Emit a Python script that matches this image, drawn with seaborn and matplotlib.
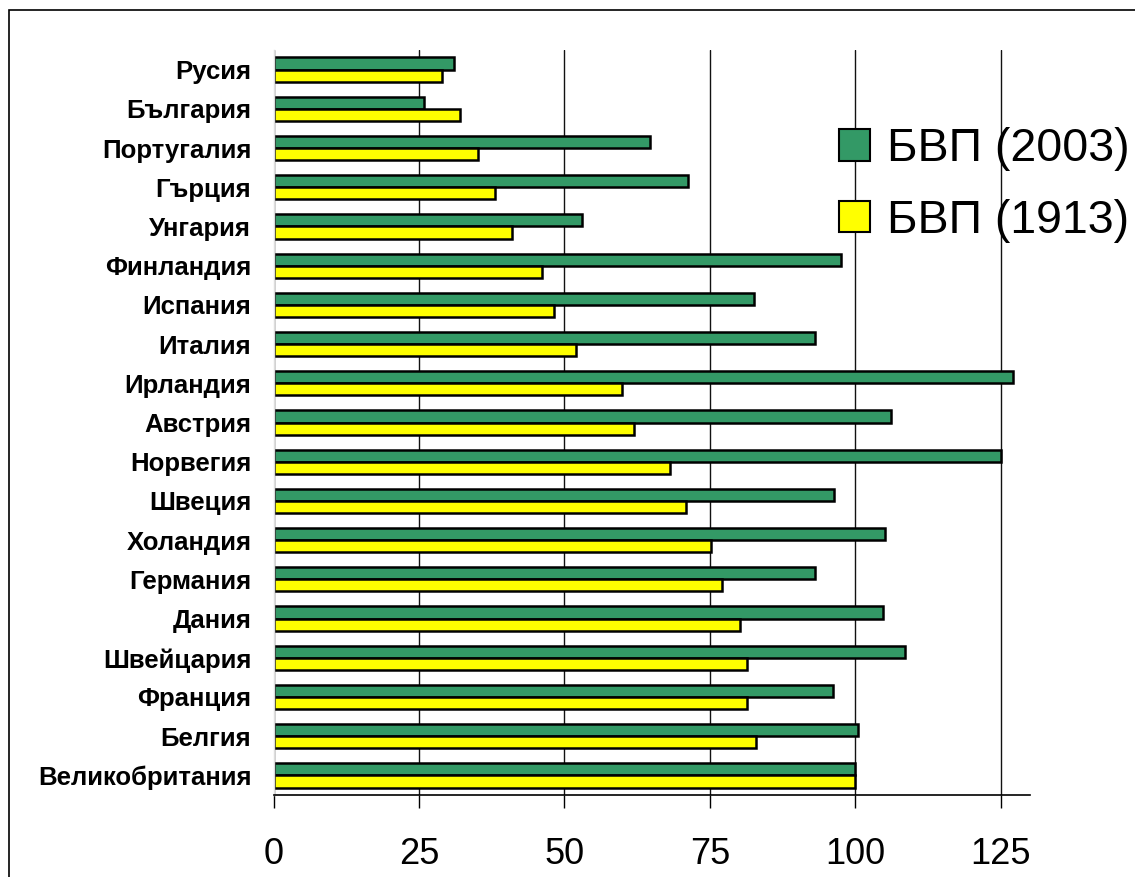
import matplotlib
matplotlib.use("Agg")
import matplotlib.pyplot as plt
import seaborn as sns
import pandas as pd
from matplotlib.patches import Rectangle, Patch

countries = ["Русия", "България", "Португалия", "Гърция", "Унгария", "Финландия",
             "Испания", "Италия", "Ирландия", "Австрия", "Норвегия", "Швеция",
             "Холандия", "Германия", "Дания", "Швейцария", "Франция", "Белгия",
             "Великобритания"]
gdp_2003 = [31.1, 25.8, 64.7, 71.3, 53.0, 97.5, 82.6, 93.0, 127.1, 106.1, 125.0, 96.4,
            105.0, 93.0, 104.7, 108.5, 96.1, 100.5, 100.0]
gdp_1913 = [28.9, 32.0, 35.1, 38.0, 41.0, 46.2, 48.2, 51.9, 59.9, 61.9, 68.1, 70.9,
            75.1, 77.1, 80.2, 81.3, 81.3, 83.0, 100.0]
series_names = ["БВП (2003)", "БВП (1913)"]
series_colors = ["#339966", "#FFFF00"]
x_ticks = [0, 25, 50, 75, 100, 125]

df = pd.DataFrame({
    "country": countries * 2,
    "value": gdp_2003 + gdp_1913,
    "series": [series_names[0]] * len(countries) + [series_names[1]] * len(countries),
})

sns.set_theme(style="white")
plt.rcParams["font.family"] = ["Liberation Sans", "DejaVu Sans"]
plt.rcParams["text.color"] = "black"
plt.rcParams["xtick.color"] = "black"
plt.rcParams["ytick.color"] = "black"
plt.rcParams["axes.labelcolor"] = "black"

fig = plt.figure(figsize=(11.35, 8.77), dpi=100)
ax = fig.add_axes([273.5 / 1135, 1 - 795 / 877, (1030 - 273.5) / 1135, (795 - 50) / 877])

sns.barplot(data=df, y="country", x="value", hue="series", order=countries,
            hue_order=series_names, palette=series_colors, orient="h",
            width=0.62, gap=0, edgecolor="black", linewidth=1.8,
            saturation=1, legend=False, ax=ax)

ax.set_xlim(0, 130)
ax.set_ylim(18.5, -0.5)
ax.set_xticks(x_ticks)
ax.set_xticklabels([str(t) for t in x_ticks], fontsize=26)
ax.set_xlabel("")
ax.set_ylabel("")
ax.tick_params(axis="x", direction="out", length=9, width=1, color="black", pad=21,
               bottom=True, labelcolor="black")
ax.tick_params(axis="y", length=0, pad=16, labelcolor="black")
for lbl in ax.get_yticklabels():
    lbl.set_fontweight("bold")
    lbl.set_fontsize(18.5)
ax.set_axisbelow(True)
ax.xaxis.grid(True, color="#111111", linewidth=1)
ax.yaxis.grid(False)
for sp in ["top", "right"]:
    ax.spines[sp].set_visible(False)
ax.spines["left"].set_color("#dddddd")
ax.spines["left"].set_linewidth(1)
ax.spines["bottom"].set_color("black")
ax.spines["bottom"].set_linewidth(1.2)

handles = [Patch(facecolor=c, edgecolor="black", linewidth=1.5) for c in series_colors]
leg = fig.legend(handles, series_names, loc="upper left",
                 bbox_to_anchor=(839 / 1135, 1 - 127 / 877),
                 frameon=False, fontsize=33.5, handlelength=0.67, handleheight=0.67,
                 handletextpad=0.36, labelspacing=0.6, borderaxespad=0, borderpad=0)
for t in leg.get_texts():
    t.set_color("black")

fig.patches.append(Rectangle((9 / 1135, -0.05), 1.1, 1 - 10 / 877 + 0.05,
                             transform=fig.transFigure, fill=False,
                             edgecolor="black", linewidth=1.2))

fig.savefig("out.png", dpi=100)
